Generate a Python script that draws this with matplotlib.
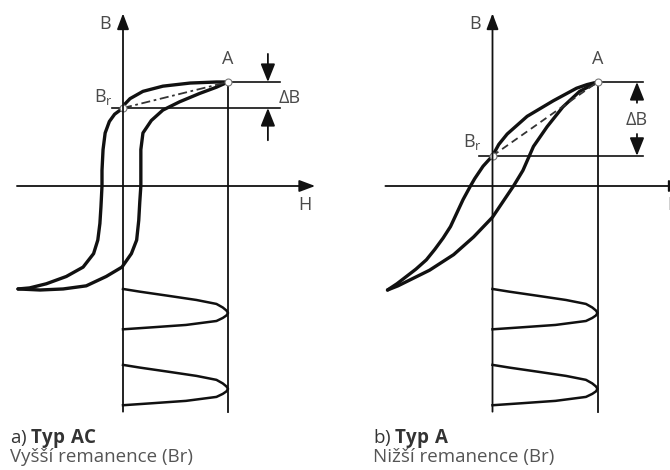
import matplotlib
matplotlib.use("Agg")
import matplotlib.pyplot as plt

plt.rcParams['font.family'] = ['Open Sans', 'DejaVu Sans']
plt.rcParams['mathtext.fontset'] = 'custom'
plt.rcParams['mathtext.rm'] = 'Open Sans'
plt.rcParams['mathtext.bf'] = 'Open Sans:bold'

# hysteresis loop, type AC (H and B in units of point A)
ac_down_H = [1.0, 0.89, 0.64, 0.38, 0.19, 0.067, 0.02, 0.0, -0.08, -0.13, -0.17, -0.19,
             -0.20, -0.20, -0.21, -0.22, -0.24, -0.28, -0.38, -0.54, -0.73, -0.89, -1.0]
ac_down_B = [1.0, 1.0, 0.99, 0.96, 0.91, 0.84, 0.79, 0.75, 0.69, 0.62, 0.51, 0.35,
             0.15, 0.0, -0.20, -0.36, -0.52, -0.65, -0.78, -0.87, -0.94, -0.98, -0.99]
ac_up_H = [-1.0, -0.79, -0.57, -0.35, -0.16, -0.01, 0.08, 0.13, 0.15, 0.16, 0.17, 0.17,
           0.17, 0.19, 0.27, 0.38, 0.54, 0.73, 0.89, 1.0]
ac_up_B = [-0.99, -1.0, -0.99, -0.96, -0.87, -0.78, -0.65, -0.52, -0.33, -0.15, 0.0, 0.2,
           0.35, 0.51, 0.63, 0.73, 0.81, 0.89, 0.95, 1.0]
ac_Br = 0.75

# hysteresis loop, type A
a_down_H = [1.0, 0.90, 0.80, 0.58, 0.33, 0.14, 0.06, 0.0, -0.09, -0.17, -0.21, -0.28,
            -0.34, -0.40, -0.47, -0.55, -0.63, -0.73, -0.82, -0.91, -1.0]
a_down_B = [1.0, 0.975, 0.94, 0.82, 0.67, 0.50, 0.40, 0.29, 0.19, 0.07, 0.0, -0.13,
            -0.26, -0.39, -0.50, -0.61, -0.71, -0.80, -0.87, -0.94, -1.0]
a_up_H = [-1.0, -0.90, -0.82, -0.60, -0.37, -0.18, 0.0, 0.10, 0.20, 0.29, 0.39, 0.52,
          0.67, 0.83, 1.0]
a_up_B = [-1.0, -0.96, -0.92, -0.81, -0.66, -0.49, -0.30, -0.15, 0.0, 0.15, 0.38, 0.57,
          0.76, 0.91, 1.0]
a_Br = 0.29

# field pulse H(t), time running downwards
pulse_t = [0.0, 0.026, 0.067, 0.106, 0.144, 0.178, 0.207, 0.231, 0.255, 0.279, 0.308,
           0.346, 0.368, 0.388]
pulse_h = [0.0, 0.16, 0.44, 0.70, 0.89, 0.95, 0.985, 1.0, 0.985, 0.95, 0.89, 0.60, 0.29, 0.0]
pulse_start = [-0.99, -1.72]

panels = [
    dict(down=(ac_down_H, ac_down_B), up=(ac_up_H, ac_up_B), Br=ac_Br, origin=123,
         left=0, dash=(0, (5, 2, 1.5, 2)), inward=True, dB_x=1.38, line_end=1.50,
         line_start=-0.10, lab_Br=(-0.19, 0.86), haxis=(-1.01, 1.83), title='a)',
         bold='Typ\\ AC', sub='Vyšší remanence (Br)', tx=10),
    dict(down=(a_down_H, a_down_B), up=(a_up_H, a_up_B), Br=a_Br, origin=492.5,
         left=335, dash=(0, (4, 2.5)), inward=False, dB_x=1.376, line_end=1.43,
         line_start=-0.13, lab_Br=(-0.19, 0.42), haxis=(-1.02, 1.83), title='b)',
         bold='Typ\\ A', sub='Nižší remanence (Br)', tx=373),
]

W, Hpx = 670, 470
sx, sy, oy = 105.0, 104.0, 186.0
ink = '#111111'
txt = '#4a4a4a'

fig = plt.figure(figsize=(6.7, 4.7), dpi=100)


def arrow(ax, start, tip, lw=1.3, hl=0.48, hw=0.18):
    ax.annotate('', xy=tip, xytext=start, annotation_clip=False,
                arrowprops=dict(arrowstyle=f'-|>,head_length={hl},head_width={hw}',
                                mutation_scale=20, lw=lw, color=ink,
                                shrinkA=0, shrinkB=0))


for p in panels:
    ax = fig.add_axes([p['left'] / W, 0, 335 / W, 1])
    ax.set_xlim((p['left'] - p['origin']) / sx, (p['left'] + 335 - p['origin']) / sx)
    ax.set_ylim((oy - Hpx) / sy, oy / sy)
    ax.axis('off')

    bottom = -2.17
    # axes
    arrow(ax, (0, bottom), (0, 1.66))
    arrow(ax, (p['haxis'][0], 0), (p['haxis'][1], 0))
    ax.text(-0.17, 1.56, 'B', fontsize=13, color=txt, ha='center', va='center')
    ax.text(p['haxis'][1] - 0.1, -0.18, 'H', fontsize=13, color=txt, ha='center', va='center')

    # vertical line under A
    ax.plot([1.0, 1.0], [1.0, bottom], color=ink, lw=1.3)

    # loop
    ax.plot(*p['down'], color=ink, lw=2.4, solid_capstyle='round', solid_joinstyle='round')
    ax.plot(*p['up'], color=ink, lw=2.4, solid_capstyle='round', solid_joinstyle='round')
    ax.plot([0, 1.0], [p['Br'], 1.0], color='#333333', lw=1.3, linestyle=p['dash'])

    # reference lines and delta B
    ax.plot([1.0, p['line_end']], [1.0, 1.0], color=ink, lw=1.2)
    ax.plot([p['line_start'], p['line_end']], [p['Br'], p['Br']], color=ink, lw=1.2)
    x = p['dB_x']
    if p['inward']:
        arrow(ax, (x, 1.27), (x, 1.0), hl=0.55, hw=0.22)
        arrow(ax, (x, 0.44), (x, p['Br']), hl=0.55, hw=0.22)
        ax.text(x + 0.21, 0.85, 'ΔB', fontsize=13, color=txt, ha='center', va='center')
    else:
        arrow(ax, (x, 0.80), (x, 1.0), hl=0.55, hw=0.22)
        arrow(ax, (x, 0.50), (x, p['Br']), hl=0.55, hw=0.22)
        ax.text(x, 0.63, 'ΔB', fontsize=13, color=txt, ha='center', va='center')

    # marker points
    ax.plot([0, 1.0], [p['Br'], 1.0], 'o', ms=5, mfc='white', mec='#777777', mew=0.8)
    ax.text(1.0, 1.22, 'A', fontsize=13, color=txt, ha='center', va='center')
    ax.text(*p['lab_Br'], 'B$_\\mathrm{r}$', fontsize=13, color=txt, ha='center', va='center')

    # field pulses
    for t0 in pulse_start:
        ax.plot(pulse_h, [t0 - t for t in pulse_t], color=ink, lw=1.8,
                solid_joinstyle='round')

    fig.text(p['tx'] / W, 1 - 438 / Hpx, p['title'] + ' $\\mathbf{' + p['bold'] + '}$',
             fontsize=13.5, color='#333333', ha='left', va='center')
    fig.text(p['tx'] / W, 1 - 457 / Hpx, p['sub'], fontsize=13.5, color='#555555',
             ha='left', va='center')

fig.savefig('out.png', dpi=100)
